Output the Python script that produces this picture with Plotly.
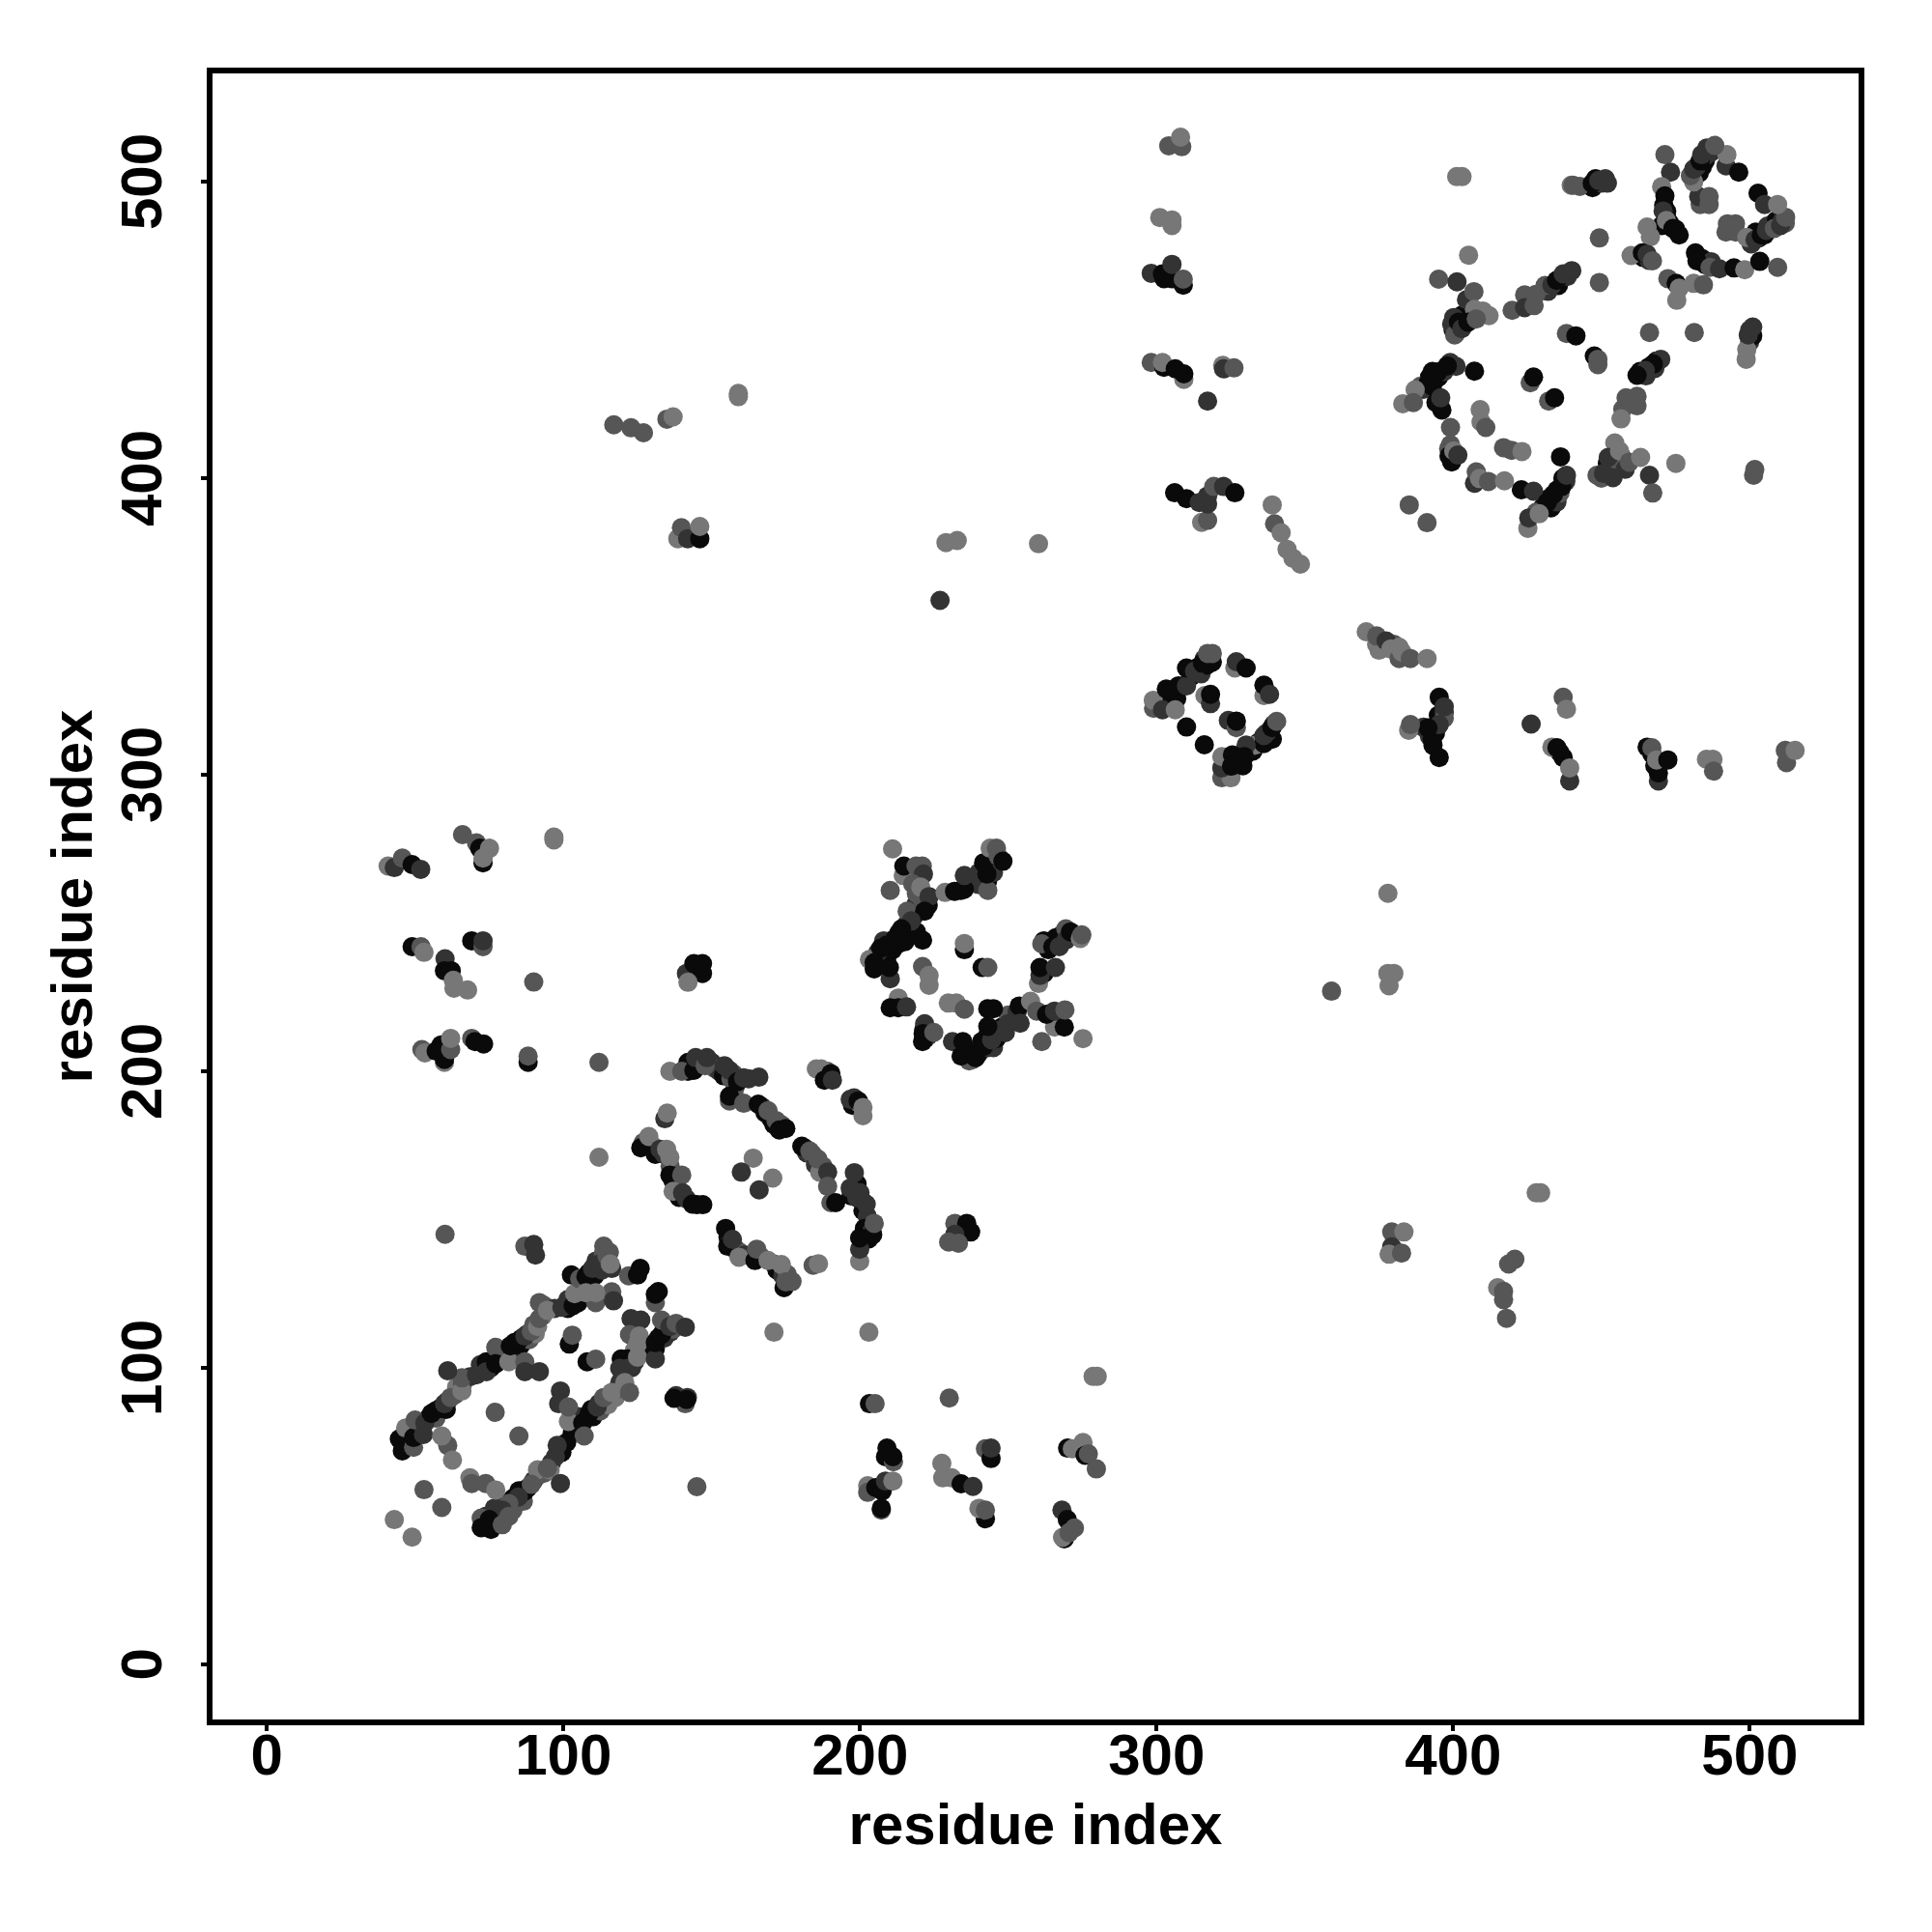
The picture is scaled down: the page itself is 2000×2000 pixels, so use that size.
import plotly.graph_objects as go

# each contact: (residue i, residue j, strength level 0-3)
helix_dense = [
(47,74,3),(47,77,3),(48,78,2),(51.5,79,2),(54.5,83,3),(56.8,85.4,3),(57,83,1),(61,88.8,2),(60.5,86,3),(63.5,91,1),(64,93.5,0),(66,94.5,1),(68.5,97,2),
(72,99,3),(72,101,2),(75.5,100,3),(79,103,3),(79,105,2),(80.5,104,1),(83.5,108.5,3),(84,106.5,2),(86,110,3),(85.5,107.5,3),(88,111.5,2),(88.5,109.5,1),
(90,114.5,1),(90.5,111.5,0),(93,117.5,0),(93.5,121,1),(97,120,2),(101.5,120,3),(101.5,123,2),(105,122,3),(106.5,127,0),(108.5,132,3),(110.5,131,3),(111,136,2),(113,133,2),(114,136,1),(113.5,138.5,1),(115.5,139,1),
(74,50,2),(77,50,3),(78,48,3),(80,54,2),(83,55,3),(83,52,1),(83,56,3),(85,58.5,3),(86,57,2),(88,59.5,3),(86.5,55,1),(90,62,2),(92,64,1),(93.5,64.5,1),(96,68,2),(95.5,65.5,0),(98.5,72,3),(99.5,71.5,3),
(103,78,3),(104.5,79.5,3),(107,83,3),(105,83.5,2),(109.5,86,3),(110,83.5,3),(112,88,2),(112.5,85.5,1),(115,90,1),(115,87.5,0),(117.5,90,0),(118.5,93,1),(119,95,2),
(129.5,105,3),(131,106.5,3),(132,110,3),(134,110,2),(134,112.5,3),(136,112,2),(137,113,1),(124,106,0),(122,103,3),(124,102,2),(123,100,2),(119.5,103,3),
]
strand_dense = [
(142,203,3),(142,200,3),(146,203,2),(150,203,2),(151,201,1),(152.5,200,2),(154,198.5,3),(157.5,199,1),(158,195,2),(157.5,193,1),(162.5,197.5,2),(167,188,2),(168,186,3),(170,184,3),(171,182,3),(173.5,182,1),
(181.5,174,3),(182,172.5,2),(184,172,1),(185,168.5,2),(187.5,168,1),(188.5,198,3),(189,200,1),(197.5,188.5,3),(198,191,2),(200,189,0),
(197,158,3),(199,162,3),(200,159,2),(201,156,2),(201,153,3),(202.5,151,2),(203,146,3),(201.5,147,3),(204,146,2),(203,143.5,3),
(127,176,1),(130,175,0),(131,172,3),(134,172,2),(136,168,1),(137,163,3),(138,161,2),(139,157.5,3),(141.5,157,2),(145,155,3),
(155.5,144,3),(156,142,2),(158,140,3),(159.5,139,1),(161,138,2),(166.5,137.5,1),(171,135,1),(172,133,3),(174,131,2),(175.5,131.5,1),
]
block_dense = [
(213,246.5,3),(213,243,3),(211,241,3),(209,238,3),(206.5,238,3),(206,240,2),(208,244,2),(216,250,2),(218,252,3),(219,247,3),(219,256.5,2),(223,256,3),(221,258,1),(219,260,1),(220,267,1),
(238,204,2),(240,206,3),(241,210,3),(243,208,2),(243,212,3),(245,208,2),(246,211,3),(248,215,3),(249,213,2),(251,217,3),(252,219,2),(250,219,1),(253,220,2),(237,206,3),(236,207,3),
(212,222,3),(214,222,3),(221.5,214,3),(222,211,3),(223,212,2),(262,244,3),(263.5,241,3),(266,245,3),(268,246,3),(270,245,2),(262,233,3),
(243,268,3),(243,264,3),(245,267,2),(244,270,2),(240,263,2),(234,261,3),
(311.5,333,3),(313.5,336,3),(315,334,2),(317,337,3),(316,339,2),(304.5,325,3),(305,327,3),(339,312,3),(338,313,3),(337,314,2),(339.5,317,2),(334.5,311,3),(332.5,308,3),(331,309,2),(327,304,3),
(395,320,3),(394,314,3),(392,313,2),(390,316,2),(393,312,3),(397,321,2),(376,345,1),(378,343,0),(380,344,1),(375,342,0),(436,307.5,3),(468,303,3),(467,307,3),
]
upper_dense = [
(400,450,3),(403,455,3),(401,449,1),(399.5,452,2),(435.5,465,3),(436,467,3),(438.5,468,2),(432,463,2),(431,465,1),(392,434,3),(393,436,3),(395,434,3),(397,436,2),(389,431,1),(390,430,2),(393,431,3),(399,439,2),
(468.5,439.5,3),(466,437.5,3),(463,436,3),(465,434.5,2),(468,437,2),(430,390,3),(432,393,3),(433,390,3),(435,396,3),(435,392,2),(437,400,3),(438,399,2),(436,395,1),(428,388.5,1),
(399.5,405.5,3),(398.5,410,1),(452,405,3),(450,400,1),(452,402,3),(457,407,1),(455,403,1),(458,403,2),(500,446,2),(500,450,2),(501,448,3),
(483,503,3),(484,505,3),(482,505,2),(485,507,3),(485.5,509,2),(487,510,2),(471,492,3),(472,488,2),(473,486,3),(475,484,3),(472,490,3),(464,474.5,3),(466,473.5,2),(484,474,3),(485,472,3),(487,473,2),
(500.5,479,2),(502,483,3),(503,481,3),(505,482,3),(506,485,2),(507,484,3),(508,486,2),(509,487,3),(511,487,2),(512,486,1),(447,498,3),(448,501,3),(450,499.5,2),(452,499.5,2),
]
helix_ladder = [
(60.1,145,1),(87,141,1),(90,141.6,2),(90.6,138,2),
(44.7,76,3),(45.7,72,3),(46.8,79.7,0),(49.5,73.2,1),(49.5,76.5,3),(50,82.4,1),(52.8,77.5,2),(53.3,81.4,2),
(55.5,84.6,3),(58.2,86.2,3),(59.9,87.9,2),(62,90,1),(65.8,92.2,0),(65.8,96.6,1),(61,99,2),(70.7,97.6,2),
(74,102,3),(74,98.7,2),(77.2,106.9,1),(77.2,101.4,3),(81.6,102,0),(82.1,107.4,3),(84.8,109,3),(87,110.7,2),(89.2,112.3,1),
(91.9,122,1),(91.3,113.9,0),(91.9,116.6,1),(94.6,119.4,0),(99.5,120.4,2),(103.3,121,3),(103.8,125,0),
(102.7,131.3,3),(105.5,130,1),(107.6,130.8,3),(109.8,133.5,2),(112,135,2),(113.6,141,1),(116.3,133.5,2),(114.7,137.8,1),(115.8,135,0),
(110.9,122,1),(116.3,125.6,1),(116.9,122.6,2),(107.6,125.3,0),(110.9,125.3,0),
(122,131,1),(125,131.3,3),(125.9,133.5,3),(131,122,1),(131,124.8,3),(132,125.7,3),
(122.8,116.6,2),(126.1,116.1,2),(122.3,111.2,1),(125.6,110.7,0),(121.7,103,3),(119,99.8,2),(121.7,99.8,2),(125,108,0),(125,103.6,0),
(131,103,2),(131,108.5,3),(133.1,111.2,3),(133.1,116.1,1),(135.9,113.9,2),(138,115,1),(141.1,113.7,2),
(141.1,87.9,1),(138,90.6,2),(141.8,90,2),(145,59.9,1),
(102,108,3),(103,111,1),(108,102,3),(110.9,102.9,1),
(87,102,1),(87,98.7,2),(91.9,98.7,2),(99,92.2,2),(98.4,87.9,2),(101.7,81.9,0),(101.7,86.8,1),(77,85,1),(85,77,1),
(106.5,81.4,3),(107,77,1),(108.7,84.6,3),(111.4,86.8,2),(113.6,90,1),(116.3,91.7,0),(120.7,95,0),(122.3,91.7,1),
(101.1,74.8,3),(97.9,73.8,2),(97.3,70,2),(91.3,65.6,0),(94.6,66.1,1),(99,61,2),
(87,58.5,3),(89.2,60.7,1),(84.8,56.4,2),(81.6,54.2,1),(79.4,52,2),(76.7,52.6,2),(72.3,49.3,1),(75,48.8,3),
(72.3,46.1,3),(75.6,45.5,3),(81.6,49.9,1),(79.4,47.1,1),
(68.5,62.9,0),(69.1,61,1),(73.8,61,1),(77.2,58.8,0),(61,73.8,1),(59,77,0),(62.6,68.9,0),
(53,58.9,1),(59,52.9,1),(43,48.8,0),(49,42.9,0),
]
strand_pair = [
(135.9,200,0),(139.9,200,1),(144,200.3,3),(144.6,204.6,2),(147.8,201.9,1),(148.4,204.6,2),(154.3,201.9,2),(156.5,197.5,1),(156,200.3,2),
(158.7,196.5,3),(160.8,197.8,2),(165.9,198,2),(156,190,1),(156,191.6,3),(160.8,189.2,1),(165.7,188.9,3),(169,186.7,1),(171.7,183.4,1),
(172.8,180.2,3),(175,180.7,3),
(185.3,200.8,0),(186.9,200.8,0),(188,197,3),(190.2,199.2,3),(190.7,197,2),(196.7,190.5,2),(199.4,190,3),(201,185,0),(201,187.8,0),
(180.4,174.7,3),(183.1,173.1,1),(186.4,166,0),(185.8,170.4,1),(189.1,166,2),(189.1,161.2,1),(190.2,155.7,1),(191.8,155.7,3),
(198.1,165.8,2),(196.7,160.6,2),(198.9,157.4,2),(202.1,155.2,2),(199.9,135.9,0),(199.9,140,2),(199.9,143.8,3),(204.3,144.9,3),(204.8,148.7,1),
(134.2,184,2),(135,185.9,0),(126.1,174.2,3),(128.8,178,0),(132.6,173.7,2),(134.8,173.7,0),(135.9,171,0),(135.9,165,3),(139.9,165,1),
(137,159.5,0),(140.2,159,2),(143.5,155.2,3),(147,155,3),
(164,170.7,0),(160,166,2),(170.6,164,0),(166,160,2),
(154.7,147,3),(155.4,141,3),(157,143.3,2),(159.2,137.3,0),(164.6,136.2,3),(165.2,140,1),(169,136.2,0),(173.5,134.8,0),
(174.4,127,3),(175,129,1),(177.1,129.1,1),(184.2,134.6,1),(186,135.1,0),
(171,112,0),(203,112,0),(112,171,0),(112,203,1),
]
beta_block = [
(211,275,0),(214.6,266,0),(214.8,269.2,3),(218.9,269.2,1),(221,269.2,1),(221.4,266.5,2),(217.8,263.2,1),(210.2,261,1),(220.5,262.1,0),(223.3,258.9,2),
(215.9,254,1),(221.8,254,3),(217.3,250.7,2),(214,248,3),(211.9,244.8,3),(221.1,244.2,3),(215.1,243.7,3),(209.1,242.6,3),(203.2,237.7,0),(207,241.5,3),
(204.8,236.6,3),(204.8,234.5,3),(210.2,231.2,2),(209.9,235,3),
(235.2,241,3),(235.2,243.1,0),(241.2,235,3),(243.1,235,1),(221.1,235.3,1),(223.3,229,0),(223.3,232.3,0),(229.8,223,0),(232.5,223,0),(235.2,220.9,1),
(212.9,224.7,0),(210.2,221.4,3),(212.9,221.4,3),(215.7,221.7,2),(221.8,216,2),(221.1,210,3),(221.3,212.7,3),(224.9,213.1,1),
(231.2,210,2),(234.7,210,3),(236.8,203.5,1),(234.1,205.1,3),(239,204.6,3),(241.7,208.4,3),(244.4,210.6,2),(247.1,213.8,2),(249.9,216,2),(243.1,215.1,3),
(243.1,221.1,3),(245,221.1,3),(253.7,222,3),(254,216.2,2),(257.5,223.6,0),(259.6,220.3,1),(265.6,214.9,0),(262.9,219.2,3),(265.6,220.3,2),(268.9,214.9,3),(269.1,220.7,1),
(261.3,210,1),(275.2,211,0),
(260.2,229.6,0),(260.7,232.3,2),(260.7,235,3),(265.9,235,2),(261.3,243,1),(265,242,3),(267.2,242,2),(269.4,248,1),(269.4,244.2,2),(271,247,3),(274.3,244.8,0),(274.8,246,1),
(228.7,260.3,0),(231.9,260.7,3),(235.2,261.4,3),(235.2,266,2),(240.1,267,2),(243.1,261,1),(242.8,266.5,3),(241.7,270.3,3),(243.9,275.2,0),(246,275.2,1),(246.6,272.5,1),(248.2,270.8,3),
(232,148.7,1),(236,148.7,3),(237.3,145.8,3),(232,145,2),(229.9,142.4,1),(233.2,142,1),
]
diamond = [
(299,322.4,1),(298.9,325.1,0),(302,321.9,2),(303.3,328.9,3),(306.8,325.7,3),(306.3,321.9,0),(307.4,330,3),(310.1,330,2),(310.1,336,3),(312.8,334.9,2),
(315.5,337.6,3),(318.8,338,3),(317.2,340.9,1),(318.8,340.9,1),
(326.4,336,0),(326.9,338.1,2),(330.2,336,3),(336.2,326.7,0),(336.2,330.2,3),(338.1,327.1,2),(316.3,326.7,0),(318.2,324,2),(318.2,327.1,3),
(310.1,316.1,3),(316.1,310.1,3),(324.2,318.3,2),(326.9,315.9,1),(326.9,318.1,3),
(333.4,310,0),(336.2,310.5,3),(336.2,313.2,2),(338.9,315.9,3),(340.5,318,1),(330.2,310,2),
(322,299,1),(325.1,299,0),(322,302.3,2),(322,306.1,0),(325.6,306.7,3),(325.3,302.9,3),(329.6,306.1,3),(329.1,303,3),
]
right_arm = [
(370.7,348.2,0),(374.2,344,0),(374.2,346.8,1),(377.4,345.1,2),(379,342.4,0),(381.8,339.2,1),(381.8,343,0),(382.8,341.3,0),(385.6,339.2,1),(391.2,339.2,0),
(395.3,326.1,3),(397,319.1,1),(397,322.9,2),(395.3,316.9,2),(391.5,315.8,3),(385,315,0),(385.6,316.9,1),(393.2,309.9,3),(395.3,305.8,3),
(437.1,326.1,1),(438.2,322.1,0),(426.3,317.1,2),(433.3,309.3,0),(435,309.1,3),(439.3,297.9,2),(437.1,305.8,3),(439.3,302.3,0),
(465.4,309.3,3),(467,309.1,1),(469.2,297.9,2),(469.2,300.6,3),(468.6,305,0),(472.4,305,3),
(485.4,305.2,0),(487.6,305.2,0),(487.8,301.2,1),(512.4,304.1,1),(512,308.2,1),(515.3,308.2,0),
(339,391,0),(339.8,384.6,1),(342,381.6,0),(344,376,0),(346,373,0),(348.5,371,0),
]
upper_block = [
(405.2,475.2,0),(395.1,467.1,1),(401.3,466.2,2),(404.5,460.2,2),(407,462.9,1),(407.2,456.9,0),(410,456.4,0),(412.1,454.8,0),
(400.5,448.3,1),(400.2,454.2,2),(401.8,452.6,3),(402.9,450.4,2),(405,452.6,3),(407.8,453.7,1),
(419.9,456.6,1),(424.1,461.8,1),(424.1,457.5,2),(427.3,458.2,1),(427.9,462,1),(433.3,465.1,2),(434.9,466.7,3),(437.1,468.9,2),(440,470,2),
(449.3,481,1),(449.3,466,1),
(438.2,448.8,1),(441.4,448,3),(447.6,441.2,3),(448.8,438.3,1),(448.8,440.1,1),(466.2,449.1,1),(481.3,449.1,1),
(498.8,440.1,0),(499,443.4,0),(499.5,448.3,2),(501,451,2),
(470,440.1,2),(467.5,438.5,3),(464.8,436.3,2),(462,434.7,3),(462,427.6,1),(458.3,427.1,1),(462,424.4,1),(457.2,423.3,1),(456.6,420,0),
(401,437.7,2),(398,437.9,3),(407.2,436.1,3),(394.8,435.8,3),(391.5,432,3),(387.2,429.8,0),(383,425.1,0),(386.6,425.5,1),(396.2,423,3),(394.2,425.5,3),(395.8,427.1,2),
(426,432.2,1),(427.1,434.1,3),(432.2,426,1),(434.2,427.1,3),
(409.1,423.1,0),(409.4,419,0),(411,417.1,1),(399.1,417.1,1),(399.1,411.3,1),(398.6,407.5,3),(400.2,409.2,0),(401.6,407.8,2),
(417,410.3,1),(419.7,409.4,1),(423.2,409,0),
(407.2,398.3,2),(407.8,402.1,1),(408.9,399.9,0),(411.9,398.9,1),(417.3,399.1,0),
(436.2,407.2,3),(423,396.1,3),(427.1,395.6,2),(431.7,391.8,3),(433.8,394.5,3),(436.6,397.2,3),(438.2,401,2),(425.2,383.1,0),(425.5,386.6,2),(429,388,0),
(385.2,391,1),(391.2,385,1),
(454.5,411.9,0),(452.3,407,2),(456.1,409.2,0),(459.4,405.4,1),(463.2,407,0),(466.2,401,2),(467.3,395,1),(475.1,405,0),
(448.5,401,1),(450.7,401.6,2),(453.9,400.2,2),(501.3,401,1),(501.7,402.9,1),
(401.2,501.7,0),(403,501.7,0),(439.8,498.8,0),(442.7,498.4,1),
]
corner_block = [
(440.4,498.8,1),(446.9,499.4,3),(449.1,500.4,2),(451.3,501,2),
(471.4,509.1,1),(473.3,503.2,2),(470.3,498.3,0),(471.4,495.2,3),(470.8,490.1,2),(470.3,485.2,3),(471.9,486.9,0),(474.1,484.2,3),(476.2,482,3),
(465.4,484.7,0),(466.5,481.4,0),(460,475.1,0),(463.8,476,3),(465.4,475.5,2),(467.2,473.3,1),(475.4,460,0),(472.4,467.3,1),(475.2,465.7,3),(476.2,464.1,0),(481.1,465.7,0),(484.4,465.2,1),
(481.7,476,3),(482.2,473.3,3),(486.6,471.1,1),(489.8,470.6,2),(494.7,470.9,3),(498.3,470.3,0),(503.4,473.1,3),(509.4,471.1,1),
(483.3,492.3,1),(482.8,495,2),(486.3,495,1),(486.3,492.3,1),(492,483,1),(495.2,483,1),(492.5,485.8,1),(495.2,485.8,1),
(499,481.2,0),(501.8,480.4,2),(503.9,482,3),(505.6,483.6,2),(508.3,484.2,1),(510.4,485.2,2),(512.1,488,1),
(502.8,496.1,3),(505,492.3,2),(509.4,492.3,0),(492,505.3,2),(496.3,503.2,3),(492.3,509.1,0),
(481.1,499.9,0),(480,502,1),(481.1,504.2,2),(483.3,507,3),(483.8,509.1,2),(485.5,511.3,2),(488.2,512.2,1),
]
top_left_groups = [
(40.9,269.2,0),(43,268.7,2),(45.7,271.9,1),(49,269.7,3),(51.9,268.1,2),
(66,279.8,1),(70.7,277,1),(71.8,275.2,3),(72.9,270.3,3),(72.9,271.9,0),(75.1,275.2,0),(96.8,278,0),(96.8,279,0),
(49,242,3),(52,242,1),(53,240.1,0),(60.1,237.9,2),(59.9,233.9,3),(62.2,233.9,3),(62.9,230.7,0),(63.1,228,0),(67.7,227.4,0),
(69.1,244,3),(72.9,242,1),(72.9,244,2),(90,230.1,1),
(52.3,207.3,1),(53.3,206.2,0),(59.9,203,0),(59.9,204,3),(57.1,206.8,3),(58.8,208.9,3),(62,207.3,1),(62,211.1,0),
(69.1,211.1,1),(70.2,210,3),(73.1,209.2,3),(88.1,203,3),(88.1,205.1,1),
(117,418,1),(122.8,417,1),(127,415.3,1),(134.9,419.9,1),(137,420.7,0),(159,427.5,0),(159,428.6,0),
(138.6,379.6,0),(139.8,383.3,1),(141.9,379.6,2),(146,379.6,3),(146,383.7,0),
(229,378.3,0),(232.8,379,0),(260.2,377.9,0),(227,358.8,2),
(141.5,233,2),(144,236.3,3),(146.9,236.3,3),(146.9,233,3),(142,230,0),
]
top_mid_groups = [
(304.1,512.1,1),(308.5,511.8,1),(308.1,515,0),(301.1,487.9,0),(305.2,485.2,0),(305.2,487.1,0),
(298.2,469.1,2),(302,468.9,3),(302.5,467.3,3),(305.2,467.3,3),(305.2,472.1,2),(309,465.1,3),(309,467.1,1),
(298.2,439,1),(302.5,437.4,3),(302,439,0),(309.2,433.3,0),(306.3,436.9,3),(309.2,435.2,3),(322.3,438,0),(322.6,436.9,2),(326.1,437.2,1),(317.2,426,2),
(306.1,395.1,3),(310.1,393.1,3),(314.4,391.8,2),(315.2,385.1,0),(317.2,385.8,1),(317.2,391.3,2),(317.2,394,2),(319.3,397.2,1),(322.6,397.2,2),(326.4,395.1,3),
]
lower_right_groups = [
(203.2,87.9,3),(205.1,87.9,1),(230.1,89.8,1),(278.6,97.1,0),(280,97.1,0),
(208.6,70,3),(209.1,72.9,3),(211.3,68.3,1),(211.1,70,3),(227.6,67.8,0),(227.9,62.9,0),(230.9,62.9,0),(234.1,60.9,3),(238.1,60,2),
(242.3,72.7,1),(244.2,69.4,3),(244.2,72.9,2),(242.3,49.1,3),(240.1,52.6,0),(242.3,52,1),
(202.6,60.2,0),(202.6,58,1),(205.3,59.6,3),(207.5,58.5,3),(208.6,61.8,2),(211.1,61.8,0),(207.2,52,1),(207.2,52.6,3),
(270,72.9,3),(271.6,72.7,0),(275.2,74.8,0),(275.9,70.5,3),(277,71,1),(279.7,65.9,1),
(268.9,42.3,3),(268.3,42.8,0),(268.1,52,2),(269.9,48.8,3),(270.5,44.4,1),(272.3,46,1),
(378,260,0),(378,233,0),(380,233,0),(359,227,1),(378.4,228.8,0),
(379.3,145.8,1),(383.4,145.8,0),(379.3,140.8,2),(378.4,138.3,0),(382.6,138.7,1),
(428,159,0),(429.5,159,0),(418.7,135,1),(420.8,136.6,1),(415,127,0),(417,125.8,1),(417,123,1),(418,116.7,1),
(137.3,89.7,3),(141.5,89.3,3),
]

tick_values = [0, 100, 200, 300, 400, 500]
axis_label = "residue index"
level_gray = {0: "#777777", 1: "#565656", 2: "#333333", 3: "#0a0a0a"}

contacts = (helix_dense + strand_dense + block_dense + upper_dense
            + helix_ladder + strand_pair + beta_block + diamond + right_arm
            + upper_block + corner_block + top_left_groups + top_mid_groups + lower_right_groups)

fig = go.Figure(go.Scatter(
    x=[c[0] for c in contacts],
    y=[c[1] for c in contacts],
    mode="markers",
    marker=dict(size=20, color=[level_gray[c[2]] for c in contacts], line=dict(width=0)),
    hoverinfo="skip",
))

tick_font = dict(family="Liberation Sans", size=60, color="black", weight="bold")
title_font = dict(family="Liberation Sans", size=60, color="black", weight="bold")
axis = dict(
    tickmode="array", tickvals=tick_values, ticktext=[str(v) for v in tick_values],
    ticks="outside", ticklen=6, tickwidth=4, tickcolor="black",
    showline=True, linewidth=6, linecolor="black", mirror=True,
    showgrid=False, zeroline=False, tickfont=tick_font,
)
fig.update_layout(
    width=2000, height=2000, autosize=False,
    margin=dict(l=220, r=76, t=76, b=220, pad=0),
    paper_bgcolor="white", plot_bgcolor="white", showlegend=False,
    xaxis=dict(axis, range=[-18.3, 536.7], ticklabelstandoff=-27,
               title=dict(text=axis_label, font=title_font, standoff=20)),
    yaxis=dict(axis, range=[-18.6, 536.5], tickangle=-90, ticklabelstandoff=17, ticklabelshift=9,
               title=dict(text=axis_label, font=title_font, standoff=0)),
)
fig.write_html("out.html", config={"displayModeBar": False},
               post_script="document.body.style.margin='0';")
